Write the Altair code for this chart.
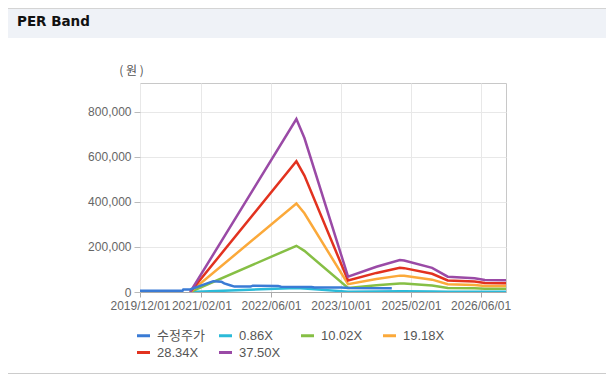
import altair as alt
import pandas as pd

series_names = ["수정주가", "0.86X", "10.02X", "19.18X", "28.34X", "37.50X"]
series_colors = ["#3a7bd5", "#2bbad8", "#86bf45", "#fba93a", "#e2321f", "#9a4aa6"]

band_dates = ["2020-11-15", "2022-11-25", "2023-01-20", "2023-11-20", "2024-06-05",
              "2024-11-15", "2024-12-15", "2025-06-28", "2025-10-15", "2026-04-20",
              "2026-07-01", "2026-11-25"]
band_086 = [0, 17600, 15700, 1600, 2600, 3300, 3200, 2500, 1600, 1400, 1200, 1200]
band_1002 = [0, 204900, 182500, 18200, 29900, 37900, 37400, 28600, 18200, 16300, 14200, 13900]
band_1918 = [0, 392300, 349300, 34800, 57300, 72600, 71600, 54700, 34800, 31200, 27100, 26600]
band_2834 = [0, 579600, 516200, 51400, 84700, 107300, 105800, 80900, 51400, 46100, 40000, 39300]
band_3750 = [0, 767000, 683000, 68000, 112000, 142000, 140000, 107000, 68000, 61000, 53000, 52000]

price_dates = ["2019-12-01", "2020-09-22", "2020-09-28", "2020-11-15", "2021-04-25",
               "2021-06-20", "2021-07-10", "2021-08-20", "2021-09-20", "2022-01-10",
               "2022-01-25", "2022-07-20", "2022-08-10", "2023-03-10", "2023-04-01",
               "2023-10-01", "2023-12-01", "2024-09-20"]
price_vals = [5000, 5000, 11000, 11000, 48000, 46000, 38000, 30000, 24000, 24000,
              28000, 27000, 23000, 22000, 20000, 20000, 18000, 17000]

x_ticks = ["2019-12-01", "2021-02-01", "2022-06-01", "2023-10-01", "2025-02-01", "2026-06-01"]
y_ticks = [0, 200000, 400000, 600000, 800000]

rows = []
for name, vals in zip(series_names[1:], [band_086, band_1002, band_1918, band_2834, band_3750]):
    for d, v in zip(band_dates, vals):
        rows.append({"date": d, "value": v, "series": name})
for d, v in zip(price_dates, price_vals):
    rows.append({"date": d, "value": v, "series": series_names[0]})
df = pd.DataFrame(rows)

FONT = "Liberation Sans, Noto Sans CJK KR, sans-serif"
KFONT = "Noto Sans CJK KR, Liberation Sans, sans-serif"

lines = alt.Chart(df).mark_line(strokeWidth=2.5, clip=True).encode(
    x=alt.X("date:T",
            scale=alt.Scale(domain=["2019-12-01", "2026-11-25"]),
            axis=alt.Axis(values=x_ticks, labelExpr="timeFormat(datum.value, '%Y/%m/%d')",
                          title=None, grid=True, gridColor="#e8e8e8", tickSize=5,
                          tickColor="#aaaaaa", domainColor="#aaaaaa", labelPadding=3,
                          labelColor="#666666", labelFontSize=12, labelFont=FONT,
                          labelFlush=False, labelOverlap=False)),
    y=alt.Y("value:Q",
            scale=alt.Scale(domain=[0, 927000], nice=False, zero=True),
            axis=alt.Axis(values=y_ticks, labelExpr="format(datum.value, ',')",
                          title="( 원 )", titleAngle=0,
                          titleX=-9, titleY=-13, titleAlign="center", titleBaseline="middle",
                          titleFont=KFONT, titleFontSize=12, titleFontWeight="normal",
                          titleColor="#555555", grid=True, gridColor="#e8e8e8",
                          domain=False, tickSize=6, tickColor="#bbbbbb", labelPadding=3,
                          labelColor="#666666", labelFontSize=12, labelFont=FONT)),
    color=alt.Color("series:N",
                    scale=alt.Scale(domain=series_names, range=series_colors),
                    legend=alt.Legend(title=None, orient="none", legendX=-5, legendY=244,
                                      direction="horizontal", columns=4, gridAlign="all",
                                      symbolType="stroke", symbolSize=170, symbolStrokeWidth=3,
                                      labelFont=FONT, labelFontSize=13, labelColor="#555555",
                                      labelOffset=5, columnPadding=7, rowPadding=1,
                                      padding=0, labelLimit=200)),
    order=alt.Order("series:N"),
)

one = pd.DataFrame({"k": [0]})
header = alt.Chart(one).mark_rect(color="#eff2f7").encode(
    x=alt.value(-132), x2=alt.value(466), y=alt.value(-75), y2=alt.value(-45))
header_line = alt.Chart(one).mark_rule(color="#d4d4d4", strokeWidth=1).encode(
    x=alt.value(-132), x2=alt.value(466), y=alt.value(-74.5))
title = alt.Chart(one).mark_text(align="left", baseline="middle", fontWeight="bold",
                                 fontSize=13.5, font="DejaVu Sans", color="#111111").encode(
    x=alt.value(-123), y=alt.value(-61), text=alt.value("PER Band"))
bottom_line = alt.Chart(one).mark_rule(color="#cccccc", strokeWidth=1).encode(
    x=alt.value(-132), x2=alt.value(466), y=alt.value(290.5))

chart = alt.layer(header, header_line, title, bottom_line, lines).properties(
    width=366, height=209,
    autosize=alt.AutoSizeParams(type="none"),
    padding={"left": 132, "top": 75, "right": 100, "bottom": 82},
).configure_view(stroke="#c8c8c8", strokeWidth=1)

chart.save("out.html", embed_options={"renderer": "svg", "actions": False})
